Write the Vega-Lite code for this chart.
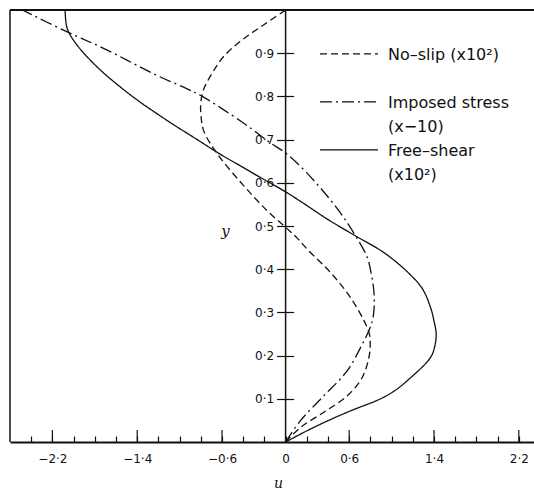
{
  "$schema": "https://vega.github.io/schema/vega-lite/v6.json",
  "width": 524,
  "height": 432,
  "autosize": {"type": "none"},
  "padding": {"left": 10, "top": 10, "right": 0, "bottom": 50},
  "background": "white",
  "view": {"stroke": null},
  "config": {"font": "DejaVu Sans"},
  "data": {
    "values": [
      {"series": "No–slip (x10²)", "u": 0, "y": 0},
      {"series": "No–slip (x10²)", "u": 0.142, "y": 0.034},
      {"series": "No–slip (x10²)", "u": 0.361, "y": 0.069},
      {"series": "No–slip (x10²)", "u": 0.582, "y": 0.107},
      {"series": "No–slip (x10²)", "u": 0.724, "y": 0.15},
      {"series": "No–slip (x10²)", "u": 0.786, "y": 0.196},
      {"series": "No–slip (x10²)", "u": 0.798, "y": 0.225},
      {"series": "No–slip (x10²)", "u": 0.79, "y": 0.25},
      {"series": "No–slip (x10²)", "u": 0.739, "y": 0.281},
      {"series": "No–slip (x10²)", "u": 0.613, "y": 0.334},
      {"series": "No–slip (x10²)", "u": 0.425, "y": 0.392},
      {"series": "No–slip (x10²)", "u": 0.205, "y": 0.446},
      {"series": "No–slip (x10²)", "u": 0.11, "y": 0.472},
      {"series": "No–slip (x10²)", "u": 0, "y": 0.497},
      {"series": "No–slip (x10²)", "u": -0.173, "y": 0.535},
      {"series": "No–slip (x10²)", "u": -0.394, "y": 0.593},
      {"series": "No–slip (x10²)", "u": -0.629, "y": 0.662},
      {"series": "No–slip (x10²)", "u": -0.771, "y": 0.719},
      {"series": "No–slip (x10²)", "u": -0.798, "y": 0.755},
      {"series": "No–slip (x10²)", "u": -0.8, "y": 0.785},
      {"series": "No–slip (x10²)", "u": -0.775, "y": 0.815},
      {"series": "No–slip (x10²)", "u": -0.692, "y": 0.854},
      {"series": "No–slip (x10²)", "u": -0.582, "y": 0.893},
      {"series": "No–slip (x10²)", "u": -0.409, "y": 0.931},
      {"series": "No–slip (x10²)", "u": -0.205, "y": 0.966},
      {"series": "No–slip (x10²)", "u": 0, "y": 1},

      {"series": "Imposed stress", "u": 0, "y": 0},
      {"series": "Imposed stress", "u": 0.142, "y": 0.05},
      {"series": "Imposed stress", "u": 0.361, "y": 0.107},
      {"series": "Imposed stress", "u": 0.582, "y": 0.165},
      {"series": "Imposed stress", "u": 0.708, "y": 0.219},
      {"series": "Imposed stress", "u": 0.786, "y": 0.258},
      {"series": "Imposed stress", "u": 0.82, "y": 0.282},
      {"series": "Imposed stress", "u": 0.835, "y": 0.31},
      {"series": "Imposed stress", "u": 0.836, "y": 0.335},
      {"series": "Imposed stress", "u": 0.828, "y": 0.36},
      {"series": "Imposed stress", "u": 0.806, "y": 0.392},
      {"series": "Imposed stress", "u": 0.771, "y": 0.427},
      {"series": "Imposed stress", "u": 0.66, "y": 0.477},
      {"series": "Imposed stress", "u": 0.482, "y": 0.542},
      {"series": "Imposed stress", "u": 0.2, "y": 0.623},
      {"series": "Imposed stress", "u": 0, "y": 0.669},
      {"series": "Imposed stress", "u": -0.142, "y": 0.692},
      {"series": "Imposed stress", "u": -0.25, "y": 0.712},
      {"series": "Imposed stress", "u": -0.425, "y": 0.743},
      {"series": "Imposed stress", "u": -0.786, "y": 0.8},
      {"series": "Imposed stress", "u": -0.943, "y": 0.819},
      {"series": "Imposed stress", "u": -1.226, "y": 0.85},
      {"series": "Imposed stress", "u": -1.698, "y": 0.909},
      {"series": "Imposed stress", "u": -2.075, "y": 0.951},
      {"series": "Imposed stress", "u": -2.484, "y": 1},

      {"series": "Free–shear", "u": 0, "y": 0},
      {"series": "Free–shear", "u": 0.267, "y": 0.034},
      {"series": "Free–shear", "u": 0.582, "y": 0.069},
      {"series": "Free–shear", "u": 0.896, "y": 0.1},
      {"series": "Free–shear", "u": 1.03, "y": 0.119},
      {"series": "Free–shear", "u": 1.148, "y": 0.142},
      {"series": "Free–shear", "u": 1.368, "y": 0.196},
      {"series": "Free–shear", "u": 1.41, "y": 0.225},
      {"series": "Free–shear", "u": 1.42, "y": 0.252},
      {"series": "Free–shear", "u": 1.4, "y": 0.28},
      {"series": "Free–shear", "u": 1.368, "y": 0.311},
      {"series": "Free–shear", "u": 1.29, "y": 0.355},
      {"series": "Free–shear", "u": 1.148, "y": 0.394},
      {"series": "Free–shear", "u": 0.93, "y": 0.438},
      {"series": "Free–shear", "u": 0.66, "y": 0.477},
      {"series": "Free–shear", "u": 0.393, "y": 0.516},
      {"series": "Free–shear", "u": 0.16, "y": 0.554},
      {"series": "Free–shear", "u": 0, "y": 0.579},
      {"series": "Free–shear", "u": -0.25, "y": 0.614},
      {"series": "Free–shear", "u": -0.425, "y": 0.639},
      {"series": "Free–shear", "u": -0.629, "y": 0.668},
      {"series": "Free–shear", "u": -0.84, "y": 0.701},
      {"series": "Free–shear", "u": -1.054, "y": 0.734},
      {"series": "Free–shear", "u": -1.226, "y": 0.762},
      {"series": "Free–shear", "u": -1.368, "y": 0.786},
      {"series": "Free–shear", "u": -1.54, "y": 0.818},
      {"series": "Free–shear", "u": -1.76, "y": 0.864},
      {"series": "Free–shear", "u": -1.965, "y": 0.918},
      {"series": "Free–shear", "u": -2.06, "y": 0.957},
      {"series": "Free–shear", "u": -2.08, "y": 1}
    ]
  },
  "layer": [
    {
      "mark": {"type": "line", "interpolate": "catmull-rom", "color": "#111", "strokeWidth": 1.3, "clip": true},
      "encoding": {
        "x": {
          "field": "u",
          "type": "quantitative",
          "scale": {"domain": [-2.6, 2.3434], "nice": false, "zero": false},
          "axis": {
            "title": "u",
            "titleFont": "DejaVu Serif",
            "titleFontStyle": "italic",
            "titleFontWeight": "normal",
            "titleFontSize": 14,
            "titleColor": "#111",
            "titleX": 268,
            "titleY": 41,
            "titleAlign": "center",
            "titleBaseline": "middle",
            "values": [-2.4, -2.2, -2, -1.8, -1.6, -1.4, -1.2, -1, -0.8, -0.6, -0.4, -0.2, 0, 0.2, 0.4, 0.6, 0.8, 1, 1.2, 1.4, 1.6, 1.8, 2, 2.2],
            "tickCount": 100,
            "labelExpr": "datum.value == 0 ? '0' : (datum.value == -2.2 || datum.value == -1.4 || datum.value == -0.6 || datum.value == 0.6 || datum.value == 1.4 || datum.value == 2.2) ? replace(format(datum.value, '.1f'), '.', '·') : ''",
            "labelFont": "DejaVu Sans",
            "labelFontSize": 12,
            "labelColor": "#111",
            "labelPadding": 17.5,
            "labelFlush": false,
            "labelOverlap": false,
            "tickSize": -6,
            "tickColor": "#111",
            "tickWidth": 1.2,
            "domainColor": "#111",
            "domainWidth": 2,
            "grid": false
          }
        },
        "y": {
          "field": "y",
          "type": "quantitative",
          "scale": {"domain": [0, 1], "nice": false},
          "axis": {
            "title": "y",
            "titleAngle": 0,
            "titleX": -51.6,
            "titleY": 220,
            "titleAlign": "center",
            "titleBaseline": "middle",
            "titleFont": "DejaVu Serif",
            "titleFontStyle": "italic",
            "titleFontWeight": "normal",
            "titleFontSize": 15,
            "titleColor": "#111",
            "values": [0.1, 0.2, 0.3, 0.4, 0.5, 0.6, 0.7, 0.8, 0.9],
            "tickCount": 100,
            "labelExpr": "replace(format(datum.value, '.1f'), '.', '·')",
            "labelFont": "DejaVu Sans",
            "labelFontSize": 12,
            "labelColor": "#111",
            "labelPadding": 20,
            "tickSize": -17,
            "tickColor": "#111",
            "tickWidth": 1.2,
            "domain": false,
            "grid": false,
            "offset": -266.6
          }
        },
        "strokeDash": {
          "field": "series",
          "type": "nominal",
          "scale": {
            "domain": ["No–slip (x10²)", "Imposed stress", "Free–shear"],
            "range": [[7, 4], [12, 4, 2, 4], [1, 0]]
          },
          "legend": {
            "orient": "none",
            "legendX": 307,
            "legendY": 29,
            "title": null,
            "padding": 0,
            "symbolType": "M -7.25 1.7 L 7.25 1.7",
            "symbolSize": 64,
            "symbolStrokeWidth": 1.2,
            "symbolStrokeColor": "#111",
            "symbolFillColor": "transparent",
            "symbolOffset": 24,
            "labelOffset": 31,
            "labelFont": "DejaVu Sans",
            "labelFontSize": 16,
            "labelColor": "#111",
            "labelBaseline": "top",
            "labelLimit": 0,
            "rowPadding": -2.5,
            "labelExpr": "datum.label == 'Imposed stress' ? [datum.label, '(x−10)'] : datum.label == 'Free–shear' ? [datum.label, '(x10²)'] : [datum.label, '']",
            "encode": {
              "labels": {"update": {"lineHeight": {"value": 23.5}}}
            }
          }
        },
        "order": {"field": "y", "type": "quantitative"}
      }
    },
    {
      "description": "Longer marks at the labelled steps of the u axis",
      "data": {"values": [{"tick": -2.2}, {"tick": -1.4}, {"tick": -0.6}, {"tick": 0.6}, {"tick": 1.4}, {"tick": 2.2}]},
      "mark": {"type": "rule", "color": "#111", "strokeWidth": 1.2},
      "encoding": {
        "x": {"field": "tick", "type": "quantitative"},
        "y": {"datum": 0, "type": "quantitative"},
        "y2": {"datum": 0.028}
      }
    },
    {
      "data": {"values": [{}]},
      "mark": {"type": "rule", "color": "#111", "strokeWidth": 1.5},
      "encoding": {"x": {"datum": 0, "type": "quantitative"}}
    },
    {
      "data": {"values": [{}]},
      "mark": {"type": "rule", "color": "#111", "strokeWidth": 1.5},
      "encoding": {"x": {"datum": -2.6, "type": "quantitative"}}
    },
    {
      "data": {"values": [{}]},
      "mark": {"type": "rule", "color": "#111", "strokeWidth": 2},
      "encoding": {"y": {"datum": 1, "type": "quantitative"}}
    }
  ]
}
